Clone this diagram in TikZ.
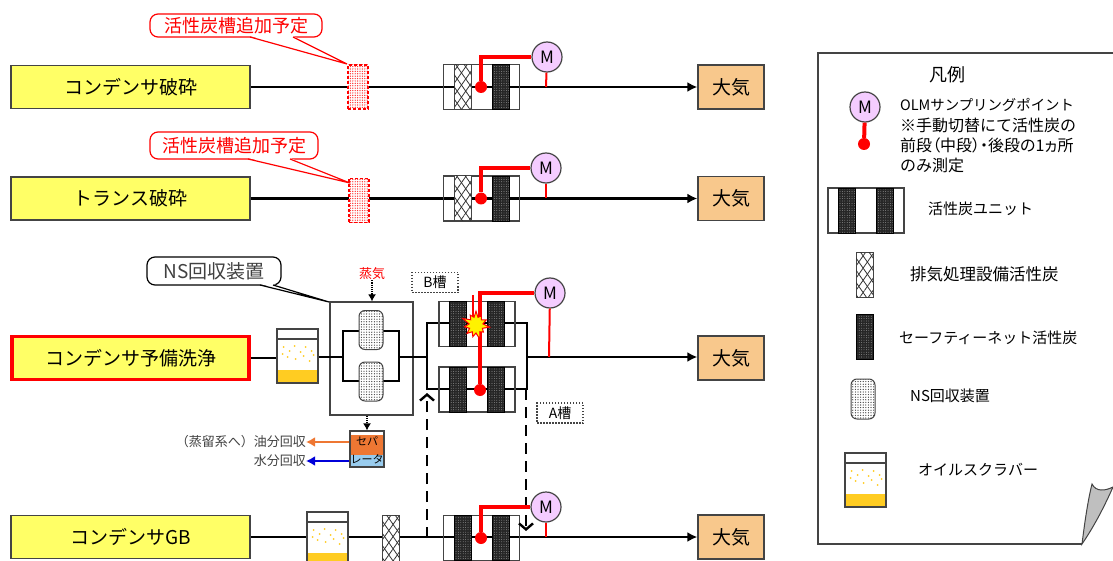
\documentclass[tikz,border=0pt]{standalone}
\usepackage{fontspec}
\setmainfont{Noto Sans CJK JP}
\newfontfamily\paltfont[RawFeature=+palt]{Noto Sans CJK JP}
\usetikzlibrary{arrows.meta,patterns.meta,shapes.symbols}

\definecolor{srcyellow}{HTML}{FFFF66}
\definecolor{skyorange}{HTML}{F8C88C}
\definecolor{oilyellow}{HTML}{FFCC22}
\definecolor{meterpink}{HTML}{F4CCFF}
\definecolor{framegray}{HTML}{444444}
\definecolor{sepblue}{HTML}{99CCEE}
\definecolor{seporange}{HTML}{EE7733}

\newcommand{\fsz}[1]{\fontsize{#1}{#1}\selectfont}

\tikzset{
    srcbox/.style={draw=framegray, line width=1.5pt, fill=srcyellow, minimum width=239pt, minimum height=43pt, inner sep=0pt, font=\fsz{19}},
    skybox/.style={draw=framegray, line width=1.3pt, fill=skyorange, minimum width=66pt, minimum height=44pt, inner sep=0pt, font=\fsz{19}},
    pipe/.style={line width=2.2pt, draw=black},
    thickpipe/.style={line width=2.8pt, draw=black},
    flow/.style={pipe, -{Latex[length=10pt,width=10pt]}},
    unitframe/.style={draw=framegray, line width=1.3pt, minimum width=76pt, minimum height=45pt, inner sep=0pt},
    netbed/.style={draw=black, line width=.6pt, minimum width=17pt, minimum height=45pt, inner sep=0pt, preaction={fill=black!85}, pattern={Dots[distance=2.4pt,radius=.4pt]}, pattern color=black!30},
    crossbed/.style={draw=framegray, line width=1pt, minimum width=17pt, minimum height=45pt, inner sep=0pt, preaction={fill=white}, pattern={Lines[angle=55,distance=7pt,line width=.8pt]}, pattern color=black!80, postaction={pattern={Lines[angle=-55,distance=7pt,line width=.8pt]}, pattern color=black!80}},
    planbed/.style={draw=red, line width=1.6pt, densely dashed, minimum width=20pt, minimum height=44pt, inner sep=0pt, preaction={fill=white}, pattern={Dots[distance=2.4pt,radius=.7pt]}, pattern color=red!80},
    vessel/.style={rounded corners=6pt, draw=framegray, line width=1pt, minimum width=24pt, minimum height=39pt, inner sep=0pt, preaction={fill=white}, pattern={Dots[distance=2.6pt,radius=.65pt]}, pattern color=black!75},
    meter/.style={circle, draw=framegray, line width=1.2pt, fill=meterpink, minimum size=30pt, inner sep=0pt, font=\fsz{17}},
    reddot/.style={circle, fill=red, minimum size=12pt, inner sep=0pt},
    sampline/.style={red, line width=4pt},
    tapline/.style={red, line width=2pt},
    planbox/.style={draw=red, line width=1.2pt, rounded corners=8pt, fill=white, text=red, inner sep=0pt, font=\fsz{18}},
    nsbox/.style={draw=black, line width=1.2pt, rounded corners=8pt, fill=white, text=black!75, inner sep=0pt, font=\fsz{19}},
    tanklabel/.style={draw=framegray, dash pattern=on 1.5pt off 1.5pt, line width=1.1pt, minimum width=46pt, minimum height=20pt, inner sep=0pt, font=\fsz{14}},
    legendtxt/.style={anchor=west, inner sep=0pt, font=\fsz{15}, align=left},
    dashpipe/.style={line width=2.4pt, dash pattern=on 11pt off 7pt, -{Straight Barb[length=6pt,width=14pt,line width=2.4pt]}},
    pics/carbonunit/.style={code={
        \node[unitframe] (-frame) at (0,0) {};
        \node[#1] (-left) at (-19,0) {};
        \node[netbed] (-right) at (19,0) {};
    }},
    pics/scrubber/.style={code={
        \node[draw=framegray, line width=1.3pt, fill=white, minimum width=41pt, minimum height=54pt, inner sep=0pt] (-body) at (0,0) {};
        \fill[oilyellow] (-20.5,14) rectangle (20.5,27);
        \draw[framegray, line width=1.3pt] (-20.5,-17) -- (20.5,-17);
        \foreach \dx/\dy in {-14/-9,-8/-5,-3/-10,3/-4,8/-9,14/-5,-10/1,-2/3,6/0,12/5,16/-1,-15/-2}
            \fill[oilyellow] (\dx,\dy) circle (1pt);
        \draw[framegray, line width=1.3pt] (-20.5,-27) rectangle (20.5,27);
    }},
}

\begin{document}
\begin{tikzpicture}[x=1pt, y=-1pt]
    \path[use as bounding box, clip] (0,0) rectangle (1113,561);

    % sources and outlets
    \node[srcbox] (src1) at (130.5,87) {コンデンサ破砕};
    \node[srcbox] (src2) at (130.5,198.5) {トランス破砕};
    \node[srcbox, draw=red, line width=3.5pt, minimum width=237pt] (src3) at (130.5,358) {コンデンサ予備洗浄};
    \node[srcbox] (src4) at (130.5,537) {コンデンサGB};
    \node[skybox] (sky1) at (731,87) {大気};
    \node[skybox] (sky2) at (731,198.5) {大気};
    \node[skybox] (sky3) at (731,358) {大気};
    \node[skybox] (sky4) at (731,537) {大気};

    % row lines
    \draw[flow] (src1) -- (sky1);
    \draw[flow] (src2) -- (sky2);
    \draw[flow] (src4) -- (sky4);

    % rows 1 and 2
    \node[planbed] (plan1) at (358,87) {};
    \node[planbed] (plan2) at (359,200.5) {};
    \pic (unit1) at (481.5,87) {carbonunit=crossbed};
    \pic (unit2) at (481.5,198.5) {carbonunit=crossbed};
    \node[planbox, minimum width=172pt, minimum height=23pt] (note1) at (236,25.5) {活性炭槽追加予定};
    \fill[white] (250,36) -- (347,64) -- (293,36) -- cycle;
    \draw[red, line width=1.2pt] (250,37) -- (347,64) -- (293,37);
    \node[planbox, minimum width=168pt, minimum height=27pt] (note2) at (234,145.5) {活性炭槽追加予定};
    \fill[white] (248,158) -- (350,183) -- (290,158) -- cycle;
    \draw[red, line width=1.2pt] (248,159) -- (350,183) -- (290,159);

    % row 3: scrubber and NS recovery
    \pic (scr3) at (297.5,356) {scrubber};
    \node[draw=framegray, line width=1.3pt, minimum width=83pt, minimum height=113pt, inner sep=0pt] (nsunit) at (371.5,358.5) {};
    \coordinate (nsL) at (343,357);
    \coordinate (nsR) at (399,357);
    \coordinate (vesBc) at (371,331);
    \coordinate (vesAc) at (371,381);
    \draw[thickpipe] (vesBc) -| (nsL) |- (vesAc);
    \draw[thickpipe] (vesBc) -| (nsR) |- (vesAc);
    \node[vessel] (vesB) at (371,330) {};
    \node[vessel] (vesA) at (371,381.5) {};
    \draw[pipe] (src3.east) -- (src3.east -| scr3-body.west);
    \draw[pipe] (scr3-body.east |- nsL) -- (nsL);

    % row 3: tanks A and B
    \coordinate (tankL) at (427,357);
    \coordinate (tankR) at (527,357);
    \coordinate (tap3) at (549,357);
    \draw[pipe] (nsR) -- (tankL);
    \draw[flow] (tankR) -- (tankR -| sky3.west);
    \coordinate (tankBc) at (477,323);
    \coordinate (tankAc) at (477,389);
    \draw[thickpipe] (tankBc) -| (tankL) |- (tankAc);
    \draw[thickpipe] (tankBc) -| (tankR) |- (tankAc);
    \pic (unitB) at (477,324) {carbonunit=netbed};
    \pic (unitA) at (477,389.5) {carbonunit=netbed};

    % steam and separator
    \node[text=red, inner sep=0pt, font=\fsz{13}] (steam) at (372,274) {蒸気};
    \draw[densely dotted, line width=1.2pt, -{Latex[length=7pt,width=8pt]}] (steam) -- (steam |- nsunit.north);
    \fill[seporange] (350,435) rectangle (384,455);
    \node[draw=framegray, line width=1.2pt, minimum width=34pt, minimum height=36pt, inner sep=0pt] (sepa) at (367,449) {};
    \fill[sepblue] (350.6,455) rectangle (383.4,466.4);
    \draw[densely dotted, line width=1.2pt, -{Latex[length=7pt,width=8pt]}] (nsunit.south -| sepa) -- (sepa.north);
    \node[inner sep=0pt, font=\fsz{11}] (sepaT) at (367,441) {セパ};
    \node[inner sep=0pt, font=\fsz{11}] (sepaB) at (367,459) {レータ};
    \node[anchor=east, inner sep=0pt, font=\fsz{13}, text=black!75] (oil) at (306,442) {（蒸留系へ）油分回収};
    \node[anchor=east, inner sep=0pt, font=\fsz{13}, text=black!75] (water) at (306,461) {水分回収};
    \draw[seporange, line width=2.2pt, -{Latex[length=9pt,width=10pt]}] (sepa.west |- oil) -- (oil);
    \draw[blue!85!black, line width=2.2pt, -{Latex[length=9pt,width=10pt]}] (sepa.west |- water) -- (water);

    % callout and tank labels
    \node[nsbox, minimum width=134pt, minimum height=28pt] (nsnote) at (214,271) {NS回収装置};
    \fill[white] (260,284) -- (329,302) -- (273,284) -- cycle;
    \draw[black, line width=1.2pt] (260,285) -- (329,302) -- (273,285);
    \node[tanklabel] (labB) at (435,282.5) {B槽};
    \node[tanklabel] (labA) at (560,413) {A槽};

    % row 4
    \pic (scr4) at (327.5,539) {scrubber};
    \node[crossbed, minimum height=46pt] (cross4) at (390.5,538) {};
    \pic (unit4) at (481.5,538) {carbonunit=netbed};
    \coordinate (dashL) at (427,538);
    \coordinate (dashR) at (526,389);
    \draw[dashpipe] (dashL) -- (427,393);
    \draw[dashpipe] (dashR) -- (526,531);

    % sampling points
    \node[meter] (m1) at (547,57) {M};
    \node[meter] (m2) at (546,168) {M};
    \node[meter] (m3) at (550,293) {M};
    \node[meter] (m4) at (546,507) {M};
    \node[reddot] (dot1) at (481,87) {};
    \node[reddot] (dot2) at (481,198.5) {};
    \node[reddot] (dot3) at (480,390) {};
    \node[reddot] (dot4) at (481,538) {};
    \coordinate (tap1) at (546,87);
    \coordinate (tap2) at (546,198.5);
    \coordinate (tap4) at (546,537);
    \draw[sampline] (dot1) |- (m1);
    \draw[sampline] (dot2) |- (m2);
    \draw[sampline] (dot3) |- (m3);
    \draw[sampline] (dot4) |- (m4);
    \draw[tapline] (m1) -- (tap1);
    \draw[tapline] (m2) -- (tap2);
    \draw[tapline] (m3) -- (tap3);
    \draw[tapline] (m4) -- (tap4);
    \draw[red, line width=2pt] (473,295) -- (473,320);
    \node[starburst, starburst points=11, starburst point height=8pt, draw=red, line width=1pt, fill=yellow, minimum width=30pt, minimum height=32pt, inner sep=0pt] (blast) at (476,325) {};

    % legend sheet
    \draw[framegray, line width=1.2pt] (1113,53) -- (818,53) -- (818,544) -- (1082,544);
    \draw[framegray, line width=1pt, fill=black!25] (1082,544) .. controls (1085,520) and (1088,500) .. (1092,484) .. controls (1096,492) and (1105,491) .. (1113,487) .. controls (1105,505) and (1095,525) .. (1082,544) -- cycle;

    \node[inner sep=0pt, font=\fsz{18}] (legtitle) at (947,75) {凡例};
    \node[meter] (legm) at (865,107) {M};
    \node[reddot] (legdot) at (864,144) {};
    \draw[sampline] (legm) -- (legdot);
    \node[legendtxt, font=\fsz{14.4}] (legolm) at (900,105) {OLMサンプリングポイント};
    \node[legendtxt, font=\fsz{16}] (legnote1) at (900,125) {※手動切替にて活性炭の};
    \node[legendtxt, font=\fsz{16}\paltfont] (legnote2) at (900,145) {前段（中段）・後段の1ヵ所};
    \node[legendtxt, font=\fsz{16}] (legnote3) at (900,165) {のみ測定};
    \pic (legunit) at (866,210.5) {carbonunit=netbed};
    \node[legendtxt] (legunittxt) at (928,209) {活性炭ユニット};
    \node[crossbed] (legcross) at (864.5,275) {};
    \node[legendtxt, font=\fsz{16.5}] (legcrosstxt) at (910,274) {排気処理設備活性炭};
    \node[netbed] (legnet) at (864.5,337) {};
    \node[legendtxt] (legnettxt) at (899,338) {セーフティーネット活性炭};
    \node[vessel, minimum height=40pt] (legves) at (863,399) {};
    \node[legendtxt] (legvestxt) at (910,396) {NS回収装置};
    \pic (legscr) at (865.5,480) {scrubber};
    \node[legendtxt] (legscrtxt) at (918,470) {オイルスクラバー};
\end{tikzpicture}
\end{document}
